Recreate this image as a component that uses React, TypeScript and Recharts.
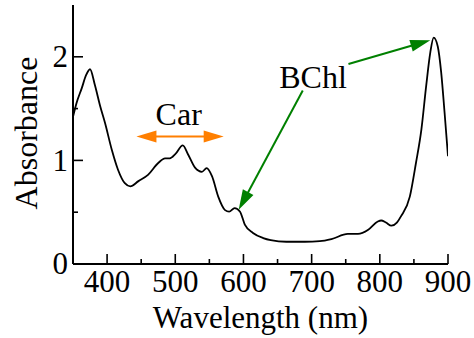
import { LineChart, Line, XAxis, YAxis, ReferenceLine, ReferenceDot } from 'recharts';

// absorption spectrum
const wavelength = [
  350, 355, 363, 369, 375, 382, 390, 397, 407, 416, 426, 434, 446, 460, 475, 485, 492, 500,
  511, 519, 529, 539, 546, 554, 563, 573, 579, 587, 595, 602, 614, 629, 640, 663, 690, 712,
  729, 753, 768, 783, 797, 802, 809, 817, 825, 831, 844, 853, 861, 868, 874, 879, 885, 890,
  895, 900,
];
const absorbance = [
  1.42, 1.55, 1.7, 1.82, 1.88, 1.73, 1.52, 1.36, 1.1, 0.91, 0.78, 0.75, 0.8, 0.86, 0.975, 1.02,
  1.02, 1.06, 1.145, 1.055, 0.93, 0.89, 0.925, 0.845, 0.65, 0.52, 0.505, 0.54, 0.505, 0.38, 0.3,
  0.25, 0.23, 0.215, 0.215, 0.22, 0.24, 0.29, 0.29, 0.33, 0.41, 0.42, 0.4, 0.37, 0.4, 0.46, 0.65,
  0.975, 1.3, 1.72, 2.04, 2.185, 2.1, 1.85, 1.46, 1.04,
];

const xMajor = [400, 500, 600, 700, 800, 900];
const xMinor = [450, 550, 650, 750, 850];
const yMajor = [0, 1, 2];
const yMinor = [0.5, 1.5];

const data = wavelength.map((w, i) => ({ w, a: absorbance[i] }));
const xTicks = [...xMajor, ...xMinor].sort((a, b) => a - b);
const yTicks = [...yMajor, ...yMinor].sort((a, b) => a - b);

const FONT = "'Liberation Serif', 'Times New Roman', Times, 'DejaVu Serif', serif";
const txt = { fontFamily: FONT, fontSize: 32, fill: '#000', stroke: 'none' };
const tickTxt = { ...txt, fontSize: 31 };
const titleTxt = { ...txt, fontSize: 31 };
const GREEN = '#008000';
const ORANGE = '#ff7f00';

type Side = 'bottom' | 'top' | 'left' | 'right';

function makeTick(side: Side, majors: number[], withLabel: boolean) {
  return (props: any) => {
    const { x, y, payload } = props;
    const major = majors.includes(payload.value);
    const len = major ? 10 : 5;
    let end = [x, y - len];
    if (side === 'top') end = [x, y + len];
    if (side === 'left') end = [x + len, y];
    if (side === 'right') end = [x - len, y];
    let label = null;
    if (withLabel && major) {
      label =
        side === 'bottom' ? (
          <text x={x} y={y + 6} dy="0.71em" textAnchor="middle" style={tickTxt}>
            {payload.value}
          </text>
        ) : (
          <text x={x - 5} y={y} dy="0.33em" textAnchor="end" style={tickTxt}>
            {payload.value}
          </text>
        );
    }
    return (
      <g>
        <line x1={x} y1={y} x2={end[0]} y2={end[1]} stroke="#000" strokeWidth={1.6} />
        {label}
      </g>
    );
  };
}

// line with filled arrowheads, drawn in pixel space from ReferenceLine's segment
function arrowShape(color: string, both: boolean, width: number) {
  return (p: any) => {
    const { x1, y1, x2, y2 } = p;
    const dx = x2 - x1;
    const dy = y2 - y1;
    const L = Math.hypot(dx, dy) || 1;
    const ux = dx / L;
    const uy = dy / L;
    const hl = 20;
    const hw = 6;
    const head = (tx: number, ty: number, sx: number, sy: number) => {
      const bx = tx - sx * hl;
      const by = ty - sy * hl;
      return `${tx},${ty} ${bx - sy * hw},${by + sx * hw} ${bx + sy * hw},${by - sx * hw}`;
    };
    const sx = both ? x1 + ux * hl * 0.9 : x1;
    const sy = both ? y1 + uy * hl * 0.9 : y1;
    return (
      <g>
        <line
          x1={sx}
          y1={sy}
          x2={x2 - ux * hl * 0.9}
          y2={y2 - uy * hl * 0.9}
          stroke={color}
          strokeWidth={width}
        />
        <polygon points={head(x2, y2, ux, uy)} fill={color} />
        {both && <polygon points={head(x1, y1, -ux, -uy)} fill={color} />}
      </g>
    );
  };
}

function textShape(value: string) {
  return (p: any) => (
    <text x={p.cx} y={p.cy} textAnchor="middle" style={txt}>
      {value}
    </text>
  );
}

export default function App() {
  return (
    <div style={{ position: 'absolute', left: 0, top: 0, background: '#fff', fontFamily: FONT }}>
      <LineChart
        width={474}
        height={338}
        data={data}
        margin={{ top: 5, right: 26, bottom: 0, left: 0 }}
      >
        <XAxis
          dataKey="w"
          type="number"
          domain={[350, 900]}
          allowDataOverflow
          ticks={xTicks}
          interval={0}
          height={74}
          tickSize={0}
          tickMargin={0}
          tickLine={false}
          axisLine={{ stroke: '#000', strokeWidth: 2 }}
          tick={makeTick('bottom', xMajor, true)}
          label={{
            content: (p: any) => {
              const vb = p.viewBox || { x: 73, y: 264, width: 375, height: 74 };
              return (
                <text x={vb.x + vb.width / 2} y={328} textAnchor="middle" style={titleTxt}>
                  Wavelength (nm)
                </text>
              );
            },
          }}
        />
        <XAxis
          xAxisId="top"
          orientation="top"
          type="number"
          domain={[350, 900]}
          allowDataOverflow
          ticks={xTicks}
          interval={0}
          height={0}
          tickSize={0}
          tickMargin={0}
          tickLine={false}
          axisLine={{ stroke: '#000', strokeWidth: 2 }}
          tick={makeTick('top', xMajor, false)}
        />
        <YAxis
          type="number"
          domain={[0, 2.5]}
          allowDataOverflow
          ticks={yTicks}
          interval={0}
          width={73}
          tickSize={0}
          tickMargin={0}
          tickLine={false}
          axisLine={{ stroke: '#000', strokeWidth: 2 }}
          tick={makeTick('left', yMajor, true)}
          label={{
            content: () => (
              <text x={37} y={133} transform="rotate(-90, 37, 133)" textAnchor="middle" style={txt}>
                Absorbance
              </text>
            ),
          }}
        />
        <YAxis
          yAxisId="right"
          orientation="right"
          type="number"
          domain={[0, 2.5]}
          allowDataOverflow
          ticks={yTicks}
          interval={0}
          width={0}
          tickSize={0}
          tickMargin={0}
          tickLine={false}
          axisLine={{ stroke: '#000', strokeWidth: 2 }}
          tick={makeTick('right', yMajor, false)}
        />
        <Line
          dataKey="a"
          type="monotone"
          stroke="#000"
          strokeWidth={1.8}
          dot={false}
          activeDot={false}
          isAnimationActive={false}
        />
        <ReferenceLine
          segment={[{ x: 443, y: 1.23 }, { x: 571, y: 1.23 }]}
          shape={arrowShape(ORANGE, true, 2)}
        />
        <ReferenceLine
          segment={[{ x: 754, y: 1.93 }, { x: 874, y: 2.16 }]}
          shape={arrowShape(GREEN, false, 2)}
        />
        <ReferenceLine
          segment={[{ x: 687, y: 1.675 }, { x: 593, y: 0.523 }]}
          shape={arrowShape(GREEN, false, 2)}
        />
        <ReferenceDot x={505} y={1.345} shape={textShape('Car')} />
        <ReferenceDot x={702} y={1.7} shape={textShape('BChl')} />
      </LineChart>
    </div>
  );
}
